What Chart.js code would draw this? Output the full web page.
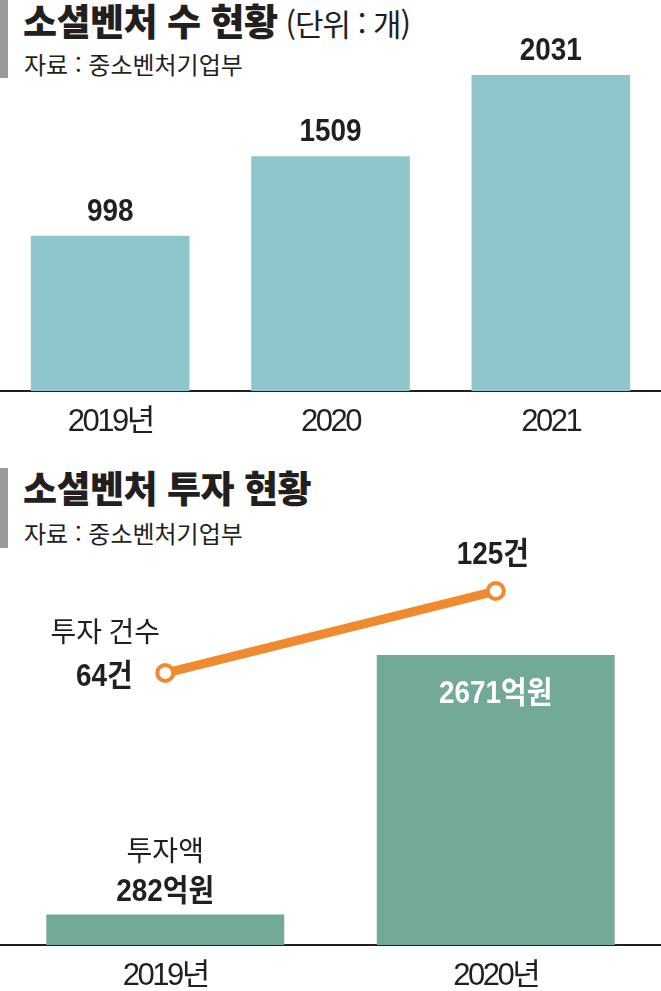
<!DOCTYPE html>
<html lang="ko">
<head>
<meta charset="utf-8">
<title>소셜벤처 현황</title>
<script src="https://cdn.jsdelivr.net/npm/chart.js@4.4.1/dist/chart.umd.min.js"></script>
<style>
    html, body {
        margin: 0;
        padding: 0;
        background: #fff;
    }
    .page {
        position: relative;
        width: 661px;
        height: 991px;
        overflow: hidden;
        font-family: "Noto Sans CJK KR", sans-serif;
        color: #231f20;
    }
    .tag {
        position: absolute;
        left: 0;
        width: 8px;
        background: #9a9a9a;
    }
    .title {
        position: absolute;
        left: 23px;
        margin: 0;
        font-size: 37px;
        font-weight: 900;
        line-height: 1;
        letter-spacing: -0.5px;
        white-space: nowrap;
    }
    .title .unit {
        font-size: 31px;
        font-weight: 400;
        letter-spacing: -1px;
        margin-left: 8px;
    }
    .source {
        position: absolute;
        left: 24px;
        margin: 0;
        font-size: 24px;
        font-weight: 400;
        line-height: 1;
        white-space: nowrap;
    }
    .chart-box {
        position: absolute;
        left: 0;
        width: 661px;
    }
</style>
</head>
<body>
<div class="page">
    <div class="tag" style="top:0;height:78px"></div>
    <h1 class="title" style="top:2px">소셜벤처 수 현황<span class="unit">(단위 : 개)</span></h1>
    <p class="source" style="top:52px">자료 : 중소벤처기업부</p>
    <div class="chart-box" style="top:0;height:460px"><canvas id="countChart"></canvas></div>

    <div class="tag" style="top:468px;height:80px"></div>
    <h1 class="title" style="top:469px">소셜벤처 투자 현황</h1>
    <p class="source" style="top:521px">자료 : 중소벤처기업부</p>
    <div class="chart-box" style="top:530px;height:461px"><canvas id="investChart"></canvas></div>
</div>
<script>
// 소셜벤처 수 (개)
const countYears = ['2019년', '2020', '2021'];
const countValues = [998, 1509, 2031];

// 소셜벤처 투자
const investYears = ['2019년', '2020년'];
const investAmounts = [282, 2671];   // 억원
const investDeals = [64, 125];       // 건
const amountUnit = '억원';
const dealUnit = '건';
const amountCaption = '투자액';
const dealCaption = '투자 건수';

const ink = '#231f20';
const tealBar = '#8ec6cb';
const greenBar = '#72aa96';
const orange = '#f08a2e';
const boldFont = 'bold 31px "Liberation Sans", "Noto Sans CJK KR", sans-serif';
const captionFont = '28px "Noto Sans CJK KR", sans-serif';
const tickFont = { family: '"Liberation Sans", "Noto Sans CJK KR", sans-serif', size: 31 };

Chart.defaults.font.family = '"Liberation Sans", "Noto Sans CJK KR", sans-serif';
Chart.defaults.color = ink;

function drawLabel(ctx, text, x, y, font, color, squeeze) {
    ctx.save();
    ctx.letterSpacing = '0px';
    ctx.font = font;
    ctx.fillStyle = color;
    ctx.textAlign = 'center';
    ctx.textBaseline = 'alphabetic';
    ctx.translate(x, y);
    ctx.scale(squeeze || 1, 1);
    ctx.fillText(text, 0, 0);
    ctx.restore();
}

// the year labels are set in a narrow face; tighten them a little
const tightTicks = {
    id: 'tightTicks',
    beforeDraw(chart) { chart.ctx.letterSpacing = '-2.5px'; },
    afterDraw(chart) { chart.ctx.letterSpacing = '0px'; }
};

function xAxis(height) {
    return {
        offset: true,
        grid: { display: false, drawTicks: false },
        border: { display: true, color: ink, width: 2 },
        ticks: { color: ink, font: tickFont, padding: 13, maxRotation: 0, autoSkip: false },
        afterFit: (axis) => { axis.height = height; }
    };
}

const common = {
    responsive: true,
    maintainAspectRatio: false,
    animation: false,
    devicePixelRatio: 1,
    layout: { padding: 0, autoPadding: false },
    events: [],
    plugins: {
        legend: { display: false },
        tooltip: { enabled: false },
        title: { display: false }
    }
};

// value labels over the count bars
const countLabels = {
    id: 'countLabels',
    afterDatasetsDraw(chart) {
        const ctx = chart.ctx;
        chart.getDatasetMeta(0).data.forEach((bar, i) => {
            drawLabel(ctx, String(countValues[i]), bar.x, bar.y - 15, boldFont, ink, 0.9);
        });
    }
};

// labels for the investment bars and line
const investLabels = {
    id: 'investLabels',
    afterDatasetsDraw(chart) {
        const ctx = chart.ctx;
        const bars = chart.getDatasetMeta(1).data;
        const points = chart.getDatasetMeta(0).data;

        // 2019: caption + value above the short bar
        drawLabel(ctx, amountCaption, bars[0].x, bars[0].y - 53, captionFont, ink, 1);
        drawLabel(ctx, investAmounts[0] + amountUnit, bars[0].x, bars[0].y - 13, boldFont, ink, 0.9);
        // 2020: value inside the tall bar
        drawLabel(ctx, investAmounts[1] + amountUnit, bars[1].x, bars[1].y + 48, boldFont, '#fff', 0.9);

        // deal counts
        drawLabel(ctx, dealCaption, points[0].x - 60, points[0].y - 31, captionFont, ink, 1);
        drawLabel(ctx, investDeals[0] + dealUnit, points[0].x - 61, points[0].y + 13, boldFont, ink, 0.9);
        drawLabel(ctx, investDeals[1] + dealUnit, points[1].x - 3, points[1].y - 27, boldFont, ink, 0.9);
    }
};

new Chart(document.getElementById('countChart'), {
    type: 'bar',
    data: {
        labels: countYears,
        datasets: [{
            data: countValues,
            backgroundColor: tealBar,
            borderWidth: 0,
            categoryPercentage: 0.72,
            barPercentage: 1
        }]
    },
    options: {
        ...common,
        scales: {
            x: xAxis(69),
            y: { display: false, min: 0, max: 2513 }
        }
    },
    plugins: [tightTicks, countLabels]
});

new Chart(document.getElementById('investChart'), {
    data: {
        labels: investYears,
        datasets: [{
            type: 'line',
            data: investDeals,
            yAxisID: 'y2',
            order: 0,
            borderColor: orange,
            borderWidth: 9,
            pointRadius: 8,
            pointBorderWidth: 4,
            pointBackgroundColor: '#fff',
            pointBorderColor: orange,
            tension: 0,
            clip: false
        }, {
            type: 'bar',
            data: investAmounts,
            yAxisID: 'y',
            order: 1,
            backgroundColor: greenBar,
            borderWidth: 0,
            categoryPercentage: 0.72,
            barPercentage: 1
        }]
    },
    options: {
        ...common,
        scales: {
            x: xAxis(46),
            y: { display: false, min: 0, max: 3822 },
            y2: { display: false, min: -138.3, max: 170.4 }
        }
    },
    plugins: [tightTicks, investLabels]
});
</script>
</body>
</html>
